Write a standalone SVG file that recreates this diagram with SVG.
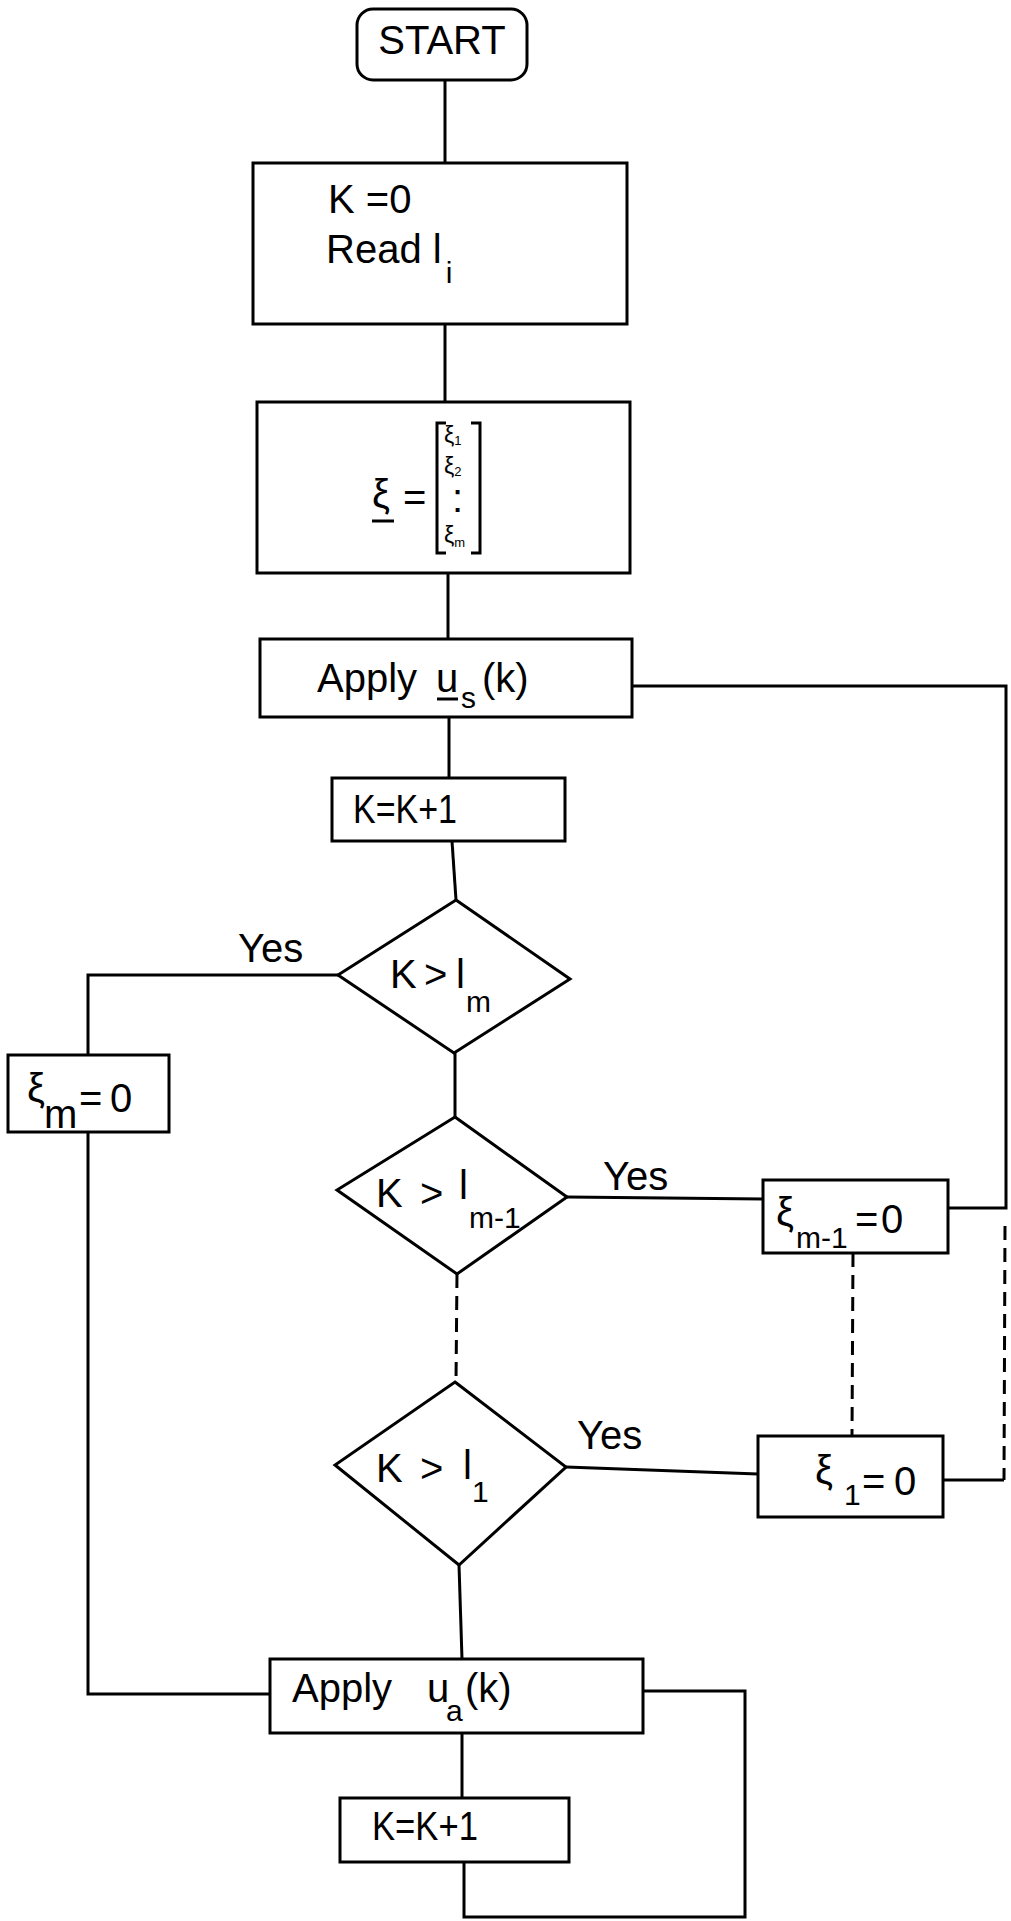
<svg xmlns="http://www.w3.org/2000/svg" width="1011" height="1921" viewBox="0 0 1011 1921">
<style>
.n{fill:#fff;stroke:#000;stroke-width:3}
.c{fill:none;stroke:#000;stroke-width:3;stroke-linejoin:miter}
.d{stroke-dasharray:14 8}
.t{font-family:"Liberation Sans",Arial,sans-serif;font-size:40px;fill:#000}
.s{font-size:30px}
.g{font-size:23px}
.gs{font-size:13px}
</style>
<rect x="0" y="0" width="1011" height="1921" fill="#fff"/>
<g id="connectors">
<line class="c" x1="445" y1="80" x2="445" y2="163"/>
<line class="c" x1="445" y1="324" x2="445" y2="402"/>
<line class="c" x1="448" y1="573" x2="448" y2="639"/>
<line class="c" x1="449" y1="717" x2="449" y2="778"/>
<line class="c" x1="452" y1="841" x2="456" y2="900"/>
<line class="c" x1="455" y1="1053" x2="455" y2="1117"/>
<line class="c d" x1="457" y1="1274" x2="456" y2="1382"/>
<line class="c" x1="459" y1="1565" x2="462" y2="1659"/>
<line class="c" x1="462" y1="1733" x2="462" y2="1798"/>
<polyline class="c" points="338,975 88,975 88,1055"/>
<polyline class="c" points="88,1132 88,1694 270,1694"/>
<polyline class="c" points="632,686 1006,686 1006,1208 948,1208"/>
<line class="c" x1="567" y1="1197" x2="763" y2="1199"/>
<line class="c" x1="566" y1="1467" x2="758" y2="1474"/>
<polyline class="c" points="943,1480 1004,1480"/>
<line class="c d" x1="1005" y1="1226" x2="1004" y2="1480"/>
<line class="c d" x1="853" y1="1253" x2="852" y2="1435"/>
<polyline class="c" points="643,1691 745,1691 745,1917 464,1917 464,1862"/>
</g>
<g id="start">
<rect class="n" x="357" y="9" width="170" height="71" rx="16"/>
<text class="t" x="442" y="54" text-anchor="middle" font-size="37">START</text>
</g>
<g id="init">
<rect class="n" x="253" y="163" width="374" height="161"/>
<text class="t" x="328" y="213">K =0</text>
<text class="t" x="326" y="263">Read l<tspan class="s" dx="4" dy="20">i</tspan></text>
</g>
<g id="xi-vector">
<rect class="n" x="257" y="402" width="373" height="171"/>
<text class="t" x="372" y="508" font-size="44">ξ</text>
<line class="c" x1="372" y1="521" x2="394" y2="521"/>
<text class="t" x="403" y="511">=</text>
<polyline class="c" points="446,423 437,423 437,553 446,553"/>
<polyline class="c" points="471,423 480,423 480,553 471,553"/>
<text class="t g" x="444" y="443">ξ<tspan class="gs" dy="2">1</tspan></text>
<text class="t g" x="444" y="474">ξ<tspan class="gs" dy="2">2</tspan></text>
<text class="t" x="452" y="512" font-size="20">:</text>
<text class="t g" x="444" y="543">ξ<tspan class="gs" dy="4">m</tspan></text>
</g>
<g id="apply-us">
<rect class="n" x="260" y="639" width="372" height="78"/>
<text class="t" y="692"><tspan x="317">Apply</tspan><tspan x="436">u</tspan><tspan class="s" x="461" dy="16">s</tspan><tspan x="482" dy="-16">(k)</tspan></text>
<line class="c" x1="437" y1="699" x2="458" y2="699"/>
</g>
<g id="inc1">
<rect class="n" x="332" y="778" width="233" height="63"/>
<text class="t" x="353" y="823" textLength="104" lengthAdjust="spacingAndGlyphs">K=K+1</text>
</g>
<g id="cond-m">
<polygon class="n" points="456,900 570,979 454,1053 338,975"/>
<text class="t" font-size="38" y="988"><tspan x="390">K</tspan><tspan x="424">&gt;</tspan><tspan x="456">l</tspan><tspan class="s" font-size="34" x="466" dy="24">m</tspan></text>
<text class="t" x="238" y="962" font-size="38">Yes</text>
</g>
<g id="xi-m">
<rect class="n" x="8" y="1055" width="161" height="77"/>
<text class="t" x="27" y="1102">ξ</text>
<text class="t" x="44" y="1128" font-size="34">m</text>
<text class="t" x="79" y="1112">=</text>
<text class="t" x="110" y="1112">0</text>
</g>
<g id="cond-m1">
<polygon class="n" points="455,1117 567,1197 457,1274 337,1190"/>
<text class="t" font-size="38" y="1207"><tspan x="376">K</tspan><tspan x="420">&gt;</tspan><tspan x="459" dy="-8">l</tspan><tspan class="s" x="469" dy="29">m-1</tspan></text>
<text class="t" x="603" y="1190" font-size="38">Yes</text>
</g>
<g id="xi-m1">
<rect class="n" x="763" y="1180" width="185" height="73"/>
<text class="t" x="776" y="1226">ξ</text>
<text class="t s" x="796" y="1248">m-1</text>
<text class="t" x="855" y="1233">=</text>
<text class="t" x="881" y="1233">0</text>
</g>
<g id="cond-1">
<polygon class="n" points="455,1382 566,1467 459,1565 335,1465"/>
<text class="t" font-size="38" y="1482"><tspan x="376">K</tspan><tspan x="420">&gt;</tspan><tspan x="463" dy="-3">l</tspan><tspan class="s" x="472" dy="23">1</tspan></text>
<text class="t" x="577" y="1449" font-size="38">Yes</text>
</g>
<g id="xi-1">
<rect class="n" x="758" y="1436" width="185" height="81"/>
<text class="t" x="815" y="1484">ξ</text>
<text class="t s" x="844" y="1505">1</text>
<text class="t" x="862" y="1495">=</text>
<text class="t" x="894" y="1495">0</text>
</g>
<g id="apply-ua">
<rect class="n" x="270" y="1659" width="373" height="74"/>
<text class="t" y="1702"><tspan x="292">Apply</tspan><tspan x="427">u</tspan><tspan class="s" x="446" dy="19">a</tspan><tspan x="465" dy="-19">(k)</tspan></text>
</g>
<g id="inc2">
<rect class="n" x="340" y="1798" width="229" height="64"/>
<text class="t" x="372" y="1840" textLength="106" lengthAdjust="spacingAndGlyphs">K=K+1</text>
</g>
</svg>
